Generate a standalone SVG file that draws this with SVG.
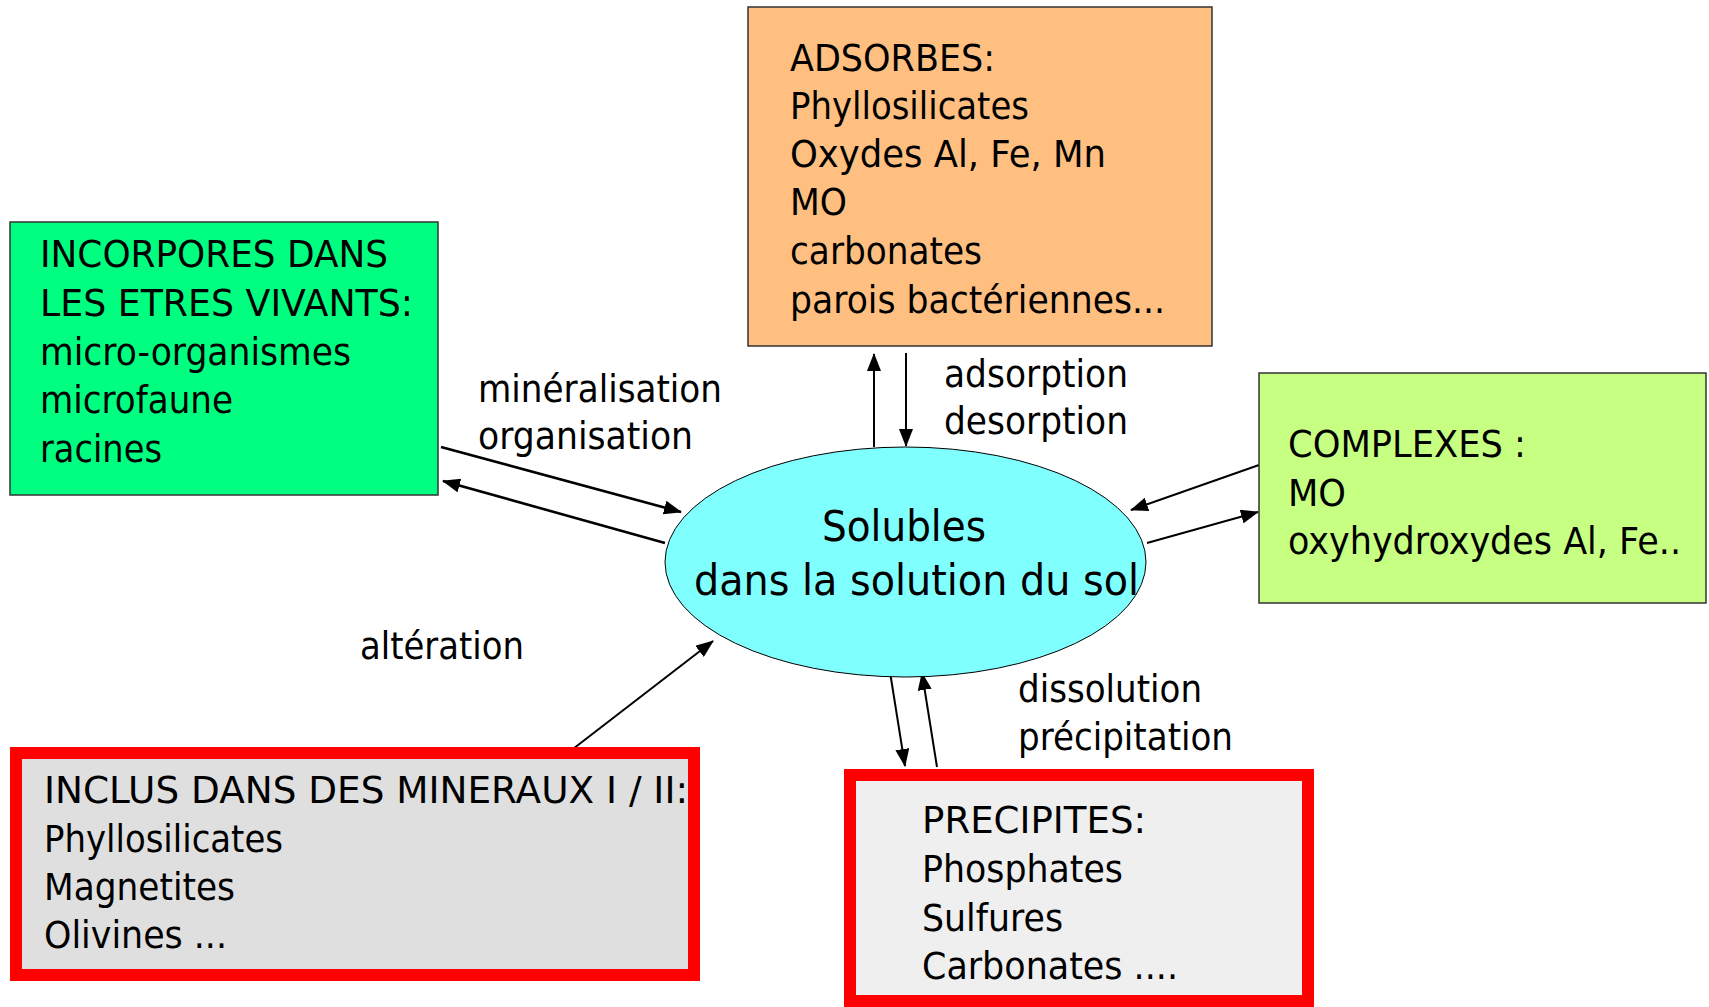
<svg xmlns="http://www.w3.org/2000/svg" width="1709" height="1007" viewBox="0 0 1709 1007">
  <style>
    .t { font-family: "DejaVu Sans", "Liberation Sans", sans-serif; font-size: 37px; fill: #000; }
    .big { font-size: 42px; }
    .box { stroke: #333; stroke-width: 1.5; }
    .red { stroke: #FF0000; stroke-width: 12; }
    .arr { stroke: #000; stroke-width: 2; fill: none; marker-end: url(#head); }
    .thick { stroke-width: 2.6; }
  </style>
  <defs>
    <marker id="head" markerUnits="userSpaceOnUse" markerWidth="18" markerHeight="14" refX="17" refY="7" orient="auto">
      <path d="M0,0 L18,7 L0,14 z" fill="#000"/>
    </marker>
  </defs>

  <!-- connectors -->
  <g id="connectors">
    <line class="arr" x1="874" y1="447" x2="874" y2="354"/>
    <line class="arr" x1="906" y1="353" x2="906" y2="446"/>
    <line class="arr thick" x1="441" y1="447" x2="681" y2="512"/>
    <line class="arr thick" x1="665" y1="543" x2="443" y2="481"/>
    <line class="arr" x1="1259" y1="465" x2="1131" y2="510"/>
    <line class="arr" x1="1147" y1="543" x2="1258" y2="512"/>
    <line class="arr" x1="569" y1="752" x2="713" y2="641"/>
    <line class="arr" x1="890" y1="672" x2="905" y2="766"/>
    <line class="arr" x1="937" y1="767" x2="922" y2="673"/>
  </g>

  <!-- central pool -->
  <g id="solubles">
    <ellipse cx="905.5" cy="562" rx="240.5" ry="115" fill="#80FFFF" stroke="#000" stroke-width="1"/>
    <text class="t big" x="822" y="541" textLength="164" lengthAdjust="spacingAndGlyphs">Solubles</text>
    <text class="t big" x="694" y="595" textLength="445" lengthAdjust="spacingAndGlyphs">dans la solution du sol</text>
  </g>

  <g id="adsorbes">
    <rect class="box" x="748" y="7" width="464" height="339" fill="#FFBF80"/>
    <text class="t" x="790" y="71" textLength="205" lengthAdjust="spacingAndGlyphs">ADSORBES:</text>
    <text class="t" x="790" y="119" textLength="239" lengthAdjust="spacingAndGlyphs">Phyllosilicates</text>
    <text class="t" x="790" y="167" textLength="316" lengthAdjust="spacingAndGlyphs">Oxydes Al, Fe, Mn</text>
    <text class="t" x="790" y="215" textLength="57" lengthAdjust="spacingAndGlyphs">MO</text>
    <text class="t" x="790" y="264" textLength="192" lengthAdjust="spacingAndGlyphs">carbonates</text>
    <text class="t" x="790" y="313" textLength="375" lengthAdjust="spacingAndGlyphs">parois bactériennes...</text>
  </g>

  <g id="vivants">
    <rect class="box" x="10" y="222" width="428" height="273" fill="#00FF80"/>
    <text class="t" x="40" y="267" textLength="348" lengthAdjust="spacingAndGlyphs">INCORPORES DANS</text>
    <text class="t" x="40" y="316" textLength="373" lengthAdjust="spacingAndGlyphs">LES ETRES VIVANTS:</text>
    <text class="t" x="40" y="365" textLength="311" lengthAdjust="spacingAndGlyphs">micro-organismes</text>
    <text class="t" x="40" y="413" textLength="193" lengthAdjust="spacingAndGlyphs">microfaune</text>
    <text class="t" x="40" y="462" textLength="122" lengthAdjust="spacingAndGlyphs">racines</text>
  </g>

  <g id="complexes">
    <rect class="box" x="1259" y="373" width="447" height="230" fill="#C6FF82"/>
    <text class="t" x="1288" y="457" textLength="238" lengthAdjust="spacingAndGlyphs">COMPLEXES :</text>
    <text class="t" x="1288" y="506" textLength="58" lengthAdjust="spacingAndGlyphs">MO</text>
    <text class="t" x="1288" y="554" textLength="393" lengthAdjust="spacingAndGlyphs">oxyhydroxydes Al, Fe..</text>
  </g>

  <g id="mineraux">
    <rect class="red" x="16" y="753" width="678" height="222" fill="#DFDFDF"/>
    <text class="t" x="44" y="803" textLength="644" lengthAdjust="spacingAndGlyphs">INCLUS DANS DES MINERAUX I / II:</text>
    <text class="t" x="44" y="852" textLength="239" lengthAdjust="spacingAndGlyphs">Phyllosilicates</text>
    <text class="t" x="44" y="900" textLength="191" lengthAdjust="spacingAndGlyphs">Magnetites</text>
    <text class="t" x="44" y="948" textLength="183" lengthAdjust="spacingAndGlyphs">Olivines ...</text>
  </g>

  <g id="precipites">
    <rect class="red" x="850" y="775" width="458" height="226" fill="#EFEFEF"/>
    <text class="t" x="922" y="833" textLength="224" lengthAdjust="spacingAndGlyphs">PRECIPITES:</text>
    <text class="t" x="922" y="882" textLength="201" lengthAdjust="spacingAndGlyphs">Phosphates</text>
    <text class="t" x="922" y="931" textLength="141" lengthAdjust="spacingAndGlyphs">Sulfures</text>
    <text class="t" x="922" y="979" textLength="256" lengthAdjust="spacingAndGlyphs">Carbonates ....</text>
  </g>

  <!-- process labels -->
  <g id="labels">
    <text class="t" x="478" y="402" textLength="244" lengthAdjust="spacingAndGlyphs">minéralisation</text>
    <text class="t" x="478" y="449" textLength="215" lengthAdjust="spacingAndGlyphs">organisation</text>
    <text class="t" x="944" y="387" textLength="184" lengthAdjust="spacingAndGlyphs">adsorption</text>
    <text class="t" x="944" y="434" textLength="184" lengthAdjust="spacingAndGlyphs">desorption</text>
    <text class="t" x="360" y="659" textLength="164" lengthAdjust="spacingAndGlyphs">altération</text>
    <text class="t" x="1018" y="702" textLength="184" lengthAdjust="spacingAndGlyphs">dissolution</text>
    <text class="t" x="1018" y="750" textLength="215" lengthAdjust="spacingAndGlyphs">précipitation</text>
  </g>
</svg>
